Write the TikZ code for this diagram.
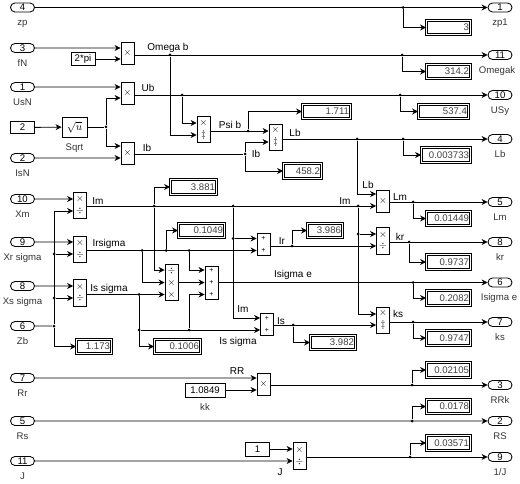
\documentclass[tikz,border=0pt]{standalone}
\usepackage{fontspec}
\setmainfont{Liberation Sans}
\usetikzlibrary{shapes.misc, arrows.meta, positioning}

\begin{document}
\begin{tikzpicture}[
    x=1pt, y=-1pt,
    port/.style={draw, rounded rectangle, minimum width=24pt, minimum height=9pt, inner sep=0pt,
                 font=\fontsize{9.6}{9.6}\selectfont},
    const/.style={draw, minimum width=24pt, minimum height=12pt, inner sep=0pt,
                  font=\fontsize{9.6}{9.6}\selectfont},
    prod/.style={draw, fill=white, minimum width=13pt, minimum height=#1, inner sep=0pt, align=center,
                 font=\fontsize{10}{12}\selectfont},
    prod/.default=22pt,
    adder/.style={prod=#1, font=\fontsize{7}{12}\selectfont},
    adder/.default=22pt,
    display/.style={draw, double, double distance=1.2pt, text width=#1, align=right, inner xsep=1.5pt,
                    inner ysep=0pt, minimum height=14.5pt, text=black!75,
                    font=\fontsize{9.6}{9.6}\selectfont},
    display/.default=41pt,
    sig/.style={inner sep=0pt, font=\fontsize{10}{10}\selectfont},
    blocklabel/.style={inner sep=0pt, text height=6.5pt, text depth=1.5pt, text=black!80,
                 font=\fontsize{9.6}{9.6}\selectfont},
    dot/.style={circle, fill, inner sep=0pt, minimum size=3pt},
    arrow/.style={-{Stealth[length=6pt,width=6pt]}},
    line width=0.85pt,
    node distance=6.5pt
]
\useasboundingbox (0,0) rectangle (520,484);

\node[port] (inZp) at (22.5,7.5) {4};
\node[port] (inFN) at (22.5,48) {3};
\node[port] (inUsN) at (22.5,87) {1};
\node[const] (cTwo) at (22.5,127.5) {2};
\node[port] (inIsN) at (22.5,158) {2};
\node[port] (inXm) at (22.5,199) {10};
\node[port] (inXr) at (22.5,242) {9};
\node[port] (inXs) at (22.5,286) {8};
\node[port] (inZb) at (22.5,326) {6};
\node[port] (inRr) at (22.5,378) {7};
\node[port] (inRs) at (22.5,421) {5};
\node[port] (inJ) at (22.5,461) {11};

\node[blocklabel, below=of inZp] (nZp) {zp};
\node[blocklabel, below=of inFN] (nFN) {fN};
\node[blocklabel, below=of inUsN] (nUsN) {UsN};
\node[blocklabel, below=of inIsN] (nIsN) {IsN};
\node[blocklabel, below=of inXm] (nXm) {Xm};
\node[blocklabel, below=of inXr] (nXr) {Xr sigma};
\node[blocklabel, below=of inXs] (nXs) {Xs sigma};
\node[blocklabel, below=of inZb] (nZb) {Zb};
\node[blocklabel, below=of inRr] (nRr) {Rr};
\node[blocklabel, below=of inRs] (nRs) {Rs};
\node[blocklabel, below=of inJ] (nJ) {J};

\node[const, minimum height=13pt] (cPi) at (83,59) {2*pi};
\node[draw, minimum width=25pt, minimum height=20pt, inner sep=0pt, font=\fontsize{11}{11}\selectfont] (sqrtU) at (74.5,127) {$\sqrt{u}$};
\node[blocklabel, below=of sqrtU] (nSqrt) {Sqrt};
\node[const, minimum width=40pt, minimum height=14pt] (cKk) at (205,390) {1.0849};
\node[blocklabel, below=of cKk] (nKk) {kk};
\node[const, minimum height=14pt] (cOne) at (257.5,449) {1};

\node[prod] (mOm) at (127.5,53.5) {$\times$};
\node[prod] (mUb) at (127.5,93) {$\times$};
\node[prod] (mIb) at (127.5,153) {$\times$};
\node[prod=26pt] (mPsi) at (203.5,129.5) {$\times$\\$\ddagger$};
\node[prod=26pt] (mLb) at (275.5,137) {$\times$\\$\ddagger$};
\node[prod=26pt] (mIm) at (80,205) {$\times$\\$\div$};
\node[prod=26pt] (mIr) at (80,249) {$\times$\\$\div$};
\node[prod=27pt] (mIs) at (80,292.5) {$\times$\\$\div$};
\node[prod=36pt] (mMul) at (171.5,282.5) {$\div$\\$\times$\\$\times$};
\node[adder=33pt] (aSum) at (211.5,282.5) {+\\+\\+};
\node[adder] (aIr) at (263.5,244.5) {+\\+};
\node[adder] (aIs) at (267,324) {+\\+};
\node[prod] (mLm) at (383,201) {$\times$};
\node[prod=27pt] (mKr) at (383,240.5) {$\times$\\$\div$};
\node[prod=26pt] (mKs) at (383,320) {$\times$\\$\ddagger$};
\node[prod] (mRR) at (263.5,384) {$\times$};
\node[prod=27pt] (mJ) at (299.5,455.5) {$\times$\\$\div$};

\node[display] (dZp) at (448.5,27.5) {3};
\node[display] (dOm) at (448.5,71.5) {314.2};
\node[display=47pt] (dUb) at (443.5,111.5) {537.4};
\node[display=45pt] (d1711) at (326.5,111.5) {1.711};
\node[display=46pt] (dLb) at (446,155) {0.003733};
\node[display=35pt] (d4582) at (302.5,171) {458.2};
\node[display] (dLm) at (448.5,218.5) {0.01449};
\node[display] (dKr) at (448.5,262) {0.9737};
\node[display] (dIse) at (448.5,298) {0.2082};
\node[display] (dKs) at (448.5,338) {0.9747};
\node[display=42pt] (d3982) at (333,342.5) {3.982};
\node[display] (dRR) at (448.5,370) {0.02105};
\node[display] (dRs) at (448.5,406.5) {0.0178};
\node[display] (dJ) at (448.5,443) {0.03571};
\node[display=43pt] (d3881) at (193.5,187) {3.881};
\node[display=43pt] (d1049) at (201.5,230.5) {0.1049};
\node[display=32pt] (d3986) at (325,230.5) {3.986};
\node[display=32pt] (d1173) at (94,346.5) {1.173};
\node[display=43pt] (d1006) at (177.5,346.5) {0.1006};

\node[port] (outZp) at (500,7.5) {1};
\node[port] (outOm) at (500,55) {11};
\node[port] (outUb) at (500,95) {10};
\node[port] (outLb) at (500,139) {4};
\node[port] (outLm) at (500,202) {5};
\node[port] (outKr) at (500,242) {8};
\node[port] (outIse) at (500,282.5) {6};
\node[port] (outKs) at (500,322) {7};
\node[port] (outRR) at (500,385) {3};
\node[port] (outRs) at (500,421) {2};
\node[port] (outJ) at (500,457) {9};

\node[blocklabel, below=of outZp] (nOutZp) {zp1};
\node[blocklabel, below=of outOm, xshift=-3pt] (nOutOm) {Omegak};
\node[blocklabel, below=of outUb] (nOutUb) {USy};
\node[blocklabel, below=of outLb] (nOutLb) {Lb};
\node[blocklabel, below=of outLm] (nOutLm) {Lm};
\node[blocklabel, below=of outKr] (nOutKr) {kr};
\node[blocklabel, below=of outIse, xshift=-1pt] (nOutIse) {Isigma e};
\node[blocklabel, below=of outKs] (nOutKs) {ks};
\node[blocklabel, below=of outRR] (nOutRR) {RRk};
\node[blocklabel, below=of outRs] (nOutRs) {RS};
\node[blocklabel, below=of outJ] (nOutJ) {1/J};

\node[sig] (lOm) at (168,48) {Omega b};
\node[sig] (lUb) at (148,88) {Ub};
\node[sig] (lIb) at (147,148) {Ib};
\node[sig] (lPsi) at (230,125) {Psi b};
\node[sig] (lIb2) at (256,154) {Ib};
\node[sig] (lLb) at (295,133) {Lb};
\node[sig] (lLb2) at (368,185) {Lb};
\node[sig] (lLm) at (400,197) {Lm};
\node[sig] (lIm) at (98,201) {Im};
\node[sig] (lIm2) at (345,201) {Im};
\node[sig] (lIrs) at (109,244) {Irsigma};
\node[sig] (lIss) at (109,289) {Is sigma};
\node[sig] (lKr) at (400,237) {kr};
\node[sig] (lIr) at (282,241) {Ir};
\node[sig] (lIse) at (293,275) {Isigma e};
\node[sig] (lIm3) at (243,309) {Im};
\node[sig] (lIs) at (281,321) {Is};
\node[sig] (lKs) at (398,314) {ks};
\node[sig] (lIss2) at (238,342) {Is sigma};
\node[sig] (lRR) at (237,371) {RR};
\node[sig] (lJ) at (280,472) {J};

\node[dot] (jZp) at (403,7.5) {};
\node[dot] (jOm1) at (170,55) {};
\node[dot] (jOm2) at (402,55) {};
\node[dot] (jUb1) at (182,95) {};
\node[dot] (jUb2) at (400,95) {};
\node[dot] (jSq) at (106,127) {};
\node[dot] (jPsi) at (248,131) {};
\node[dot] (jIb) at (245,154) {};
\node[dot] (jLb1) at (357,139) {};
\node[dot] (jLb2) at (403,139) {};
\node[dot] (jIm1) at (154,206) {};
\node[dot] (jIm2) at (233,206) {};
\node[dot] (jIm3) at (358,206) {};
\node[dot] (jIm4) at (233,238.5) {};
\node[dot] (jIm5) at (358,234) {};
\node[dot] (jZr) at (54,254) {};
\node[dot] (jZs) at (54,298) {};
\node[dot] (jZb) at (54,326) {};
\node[dot] (jIr1) at (142,250.5) {};
\node[dot] (jIr2) at (166,250.5) {};
\node[dot] (jIr3) at (189,250.5) {};
\node[dot] (jIs1) at (139,294.5) {};
\node[dot] (jIs2) at (139,330) {};
\node[dot] (jIs3) at (189,330) {};
\node[dot] (jIrO) at (292,246) {};
\node[dot] (jIsO) at (293,325) {};
\node[dot] (jLm) at (413,202) {};
\node[dot] (jKr) at (409,242) {};
\node[dot] (jIse) at (413,282.5) {};
\node[dot] (jKs) at (413,322) {};
\node[dot] (jRR) at (412,385) {};
\node[dot] (jRs) at (412,421) {};
\node[dot] (jJ) at (410,457) {};

\draw[arrow] (inZp) -- (outZp);
\draw[arrow] (jZp) |- (dZp);
\draw[arrow] (inFN) -- ([yshift=5.5pt]mOm.west);
\draw[arrow] (cPi) -- ([yshift=-5.5pt]mOm.west);
\draw[arrow] (mOm.east |- jOm1) -- (outOm);
\draw[arrow] (jOm2) |- (dOm);
\draw[arrow] (jOm1) |- ([yshift=-5.5pt]mPsi.west);
\draw[arrow] (inUsN) -- ([yshift=6pt]mUb.west);
\draw[arrow] (cTwo) -- (sqrtU);
\draw (sqrtU) -- (jSq);
\draw[arrow] (jSq) |- ([yshift=-5pt]mUb.west);
\draw[arrow] (jSq) |- ([yshift=7pt]mIb.west);
\draw[arrow] (inIsN) -- ([yshift=-5pt]mIb.west);
\draw[arrow] (mUb.east |- jUb1) -- (outUb);
\draw[arrow] (jUb2) |- (dUb);
\draw[arrow] (jUb1) |- ([yshift=6.5pt]mPsi.west);
\draw[arrow] (mPsi.east |- jPsi) -- ([yshift=6pt]mLb.west);
\draw[arrow] (jPsi) |- (d1711);
\draw (mIb.east |- jIb) -- (jIb);
\draw[arrow] (jIb) |- ([yshift=-5pt]mLb.west);
\draw[arrow] (jIb) |- (d4582);
\draw[arrow] (mLb.east |- jLb1) -- (outLb);
\draw[arrow] (jLb2) |- (dLb);
\draw[arrow] (jLb1) |- ([yshift=7pt]mLm.west);

\draw[arrow] (inXm) -- ([yshift=6pt]mIm.west);
\draw[arrow] (inXr) -- ([yshift=7pt]mIr.west);
\draw[arrow] (inXs) -- ([yshift=6.5pt]mIs.west);
\draw (inZb) -- (jZb);
\draw[arrow] (jZb) |- ([yshift=-6pt]mIm.west);
\draw[arrow] (jZb) |- (d1173);
\draw[arrow] (jZr) -- ([yshift=-5pt]mIr.west);
\draw[arrow] (jZs) -- ([yshift=-5.5pt]mIs.west);
\draw[arrow] (mIm.east |- jIm1) -- ([yshift=-5pt]mLm.west);
\draw[arrow] (jIm1) |- (d3881);
\draw[arrow] (jIm1) |- ([yshift=12.5pt]mMul.west);
\draw[arrow] (mIr.east |- jIr1) -- ([yshift=-6pt]aIr.west);
\draw[arrow] (jIr1) |- (mMul.west);
\draw[arrow] (jIr2) |- (d1049);
\draw[arrow] (jIr3) |- ([yshift=12.5pt]aSum.west);
\draw[arrow] (mIs.east |- jIs1) -- ([yshift=-12pt]mMul.west);
\draw[arrow] (jIs1) |- (d1006);
\draw[arrow] (jIs2) -- ([yshift=-6pt]aIs.west);
\draw[arrow] (jIs3) |- ([yshift=-12pt]aSum.west);
\draw[arrow] (mMul) -- (aSum);
\draw[arrow] (aSum) -- (outIse);
\draw[arrow] (jIse) |- (dIse);
\draw[arrow] (jIm2) |- ([yshift=6pt]aIs.west);
\draw[arrow] (jIm4) -- ([yshift=6pt]aIr.west);
\draw[arrow] (aIr.east |- jIrO) -- ([yshift=-5.5pt]mKr.west);
\draw[arrow] (jIrO) |- (d3986);
\draw[arrow] (aIs.east |- jIsO) -- ([yshift=-5pt]mKs.west);
\draw[arrow] (jIsO) |- (d3982);
\draw[arrow] (jIm3) |- ([yshift=6pt]mKs.west);
\draw[arrow] (jIm5) -- ([yshift=6.5pt]mKr.west);
\draw[arrow] (mLm.east |- jLm) -- (outLm);
\draw[arrow] (jLm) |- (dLm);
\draw[arrow] (mKr.east |- jKr) -- (outKr);
\draw[arrow] (jKr) |- (dKr);
\draw[arrow] (mKs.east |- jKs) -- (outKs);
\draw[arrow] (jKs) |- (dKs);

\draw[arrow] (inRr) -- ([yshift=6pt]mRR.west);
\draw[arrow] (cKk) -- ([yshift=-6pt]mRR.west);
\draw[arrow] (mRR.east |- jRR) -- (outRR);
\draw[arrow] (jRR) |- (dRR);
\draw[arrow] (inRs) -- (outRs);
\draw[arrow] (jRs) |- (dRs);
\draw[arrow] (inJ) -- ([yshift=-5.5pt]mJ.west);
\draw[arrow] (cOne) -- ([yshift=6.5pt]mJ.west);
\draw[arrow] (mJ.east |- jJ) -- (outJ);
\draw[arrow] (jJ) |- (dJ);
\end{tikzpicture}
\end{document}
